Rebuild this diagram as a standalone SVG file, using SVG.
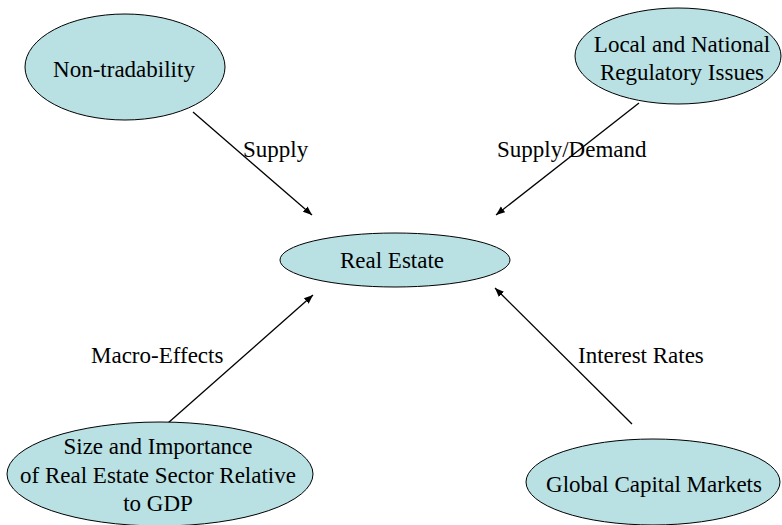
<svg xmlns="http://www.w3.org/2000/svg" width="782" height="525" viewBox="0 0 782 525">
<style>
  .node ellipse { fill: #B9E0E3; stroke: #000; stroke-width: 1; }
  text { font-family: "Liberation Serif", "Times New Roman", serif; font-size: 23px; fill: #000; }
  .c { text-anchor: middle; }
  .edge { stroke: #000; stroke-width: 1.3; fill: none; marker-end: url(#ah); }
</style>
<defs>
  <marker id="ah" viewBox="0 0 10 10" refX="10" refY="5" markerWidth="9" markerHeight="9" markerUnits="userSpaceOnUse" orient="auto">
    <path d="M0,1 L10,5 L0,9 Z" fill="#000"/>
  </marker>
</defs>
<rect width="782" height="525" fill="#fff"/>
<g id="connectors">
  <line class="edge" x1="193" y1="112" x2="312" y2="215"/>
  <line class="edge" x1="639" y1="103" x2="496" y2="215"/>
  <line class="edge" x1="168" y1="423" x2="313" y2="295"/>
  <line class="edge" x1="632" y1="424" x2="495" y2="288"/>
  <text x="243" y="157">Supply</text>
  <text x="497" y="157">Supply/Demand</text>
  <text x="91" y="363">Macro-Effects</text>
  <text x="578" y="363">Interest Rates</text>
</g>
<g id="non-tradability" class="node">
  <ellipse cx="125" cy="67" rx="100" ry="53"/>
  <text class="c" x="124" y="77">Non-tradability</text>
</g>
<g id="regulatory" class="node">
  <ellipse cx="678" cy="56" rx="103" ry="48"/>
  <text class="c" x="682" y="52">Local and National</text>
  <text class="c" x="682" y="80">Regulatory Issues</text>
</g>
<g id="real-estate" class="node">
  <ellipse cx="395" cy="260" rx="115" ry="27"/>
  <text class="c" x="392" y="268">Real Estate</text>
</g>
<g id="size-importance" class="node">
  <ellipse cx="160" cy="474" rx="153" ry="52"/>
  <text class="c" x="158" y="454">Size and Importance</text>
  <text class="c" x="158" y="483">of Real Estate Sector Relative</text>
  <text class="c" x="158" y="511">to GDP</text>
</g>
<g id="global-capital" class="node">
  <ellipse cx="653" cy="482" rx="127" ry="43"/>
  <text class="c" x="654" y="492">Global Capital Markets</text>
</g>
</svg>
